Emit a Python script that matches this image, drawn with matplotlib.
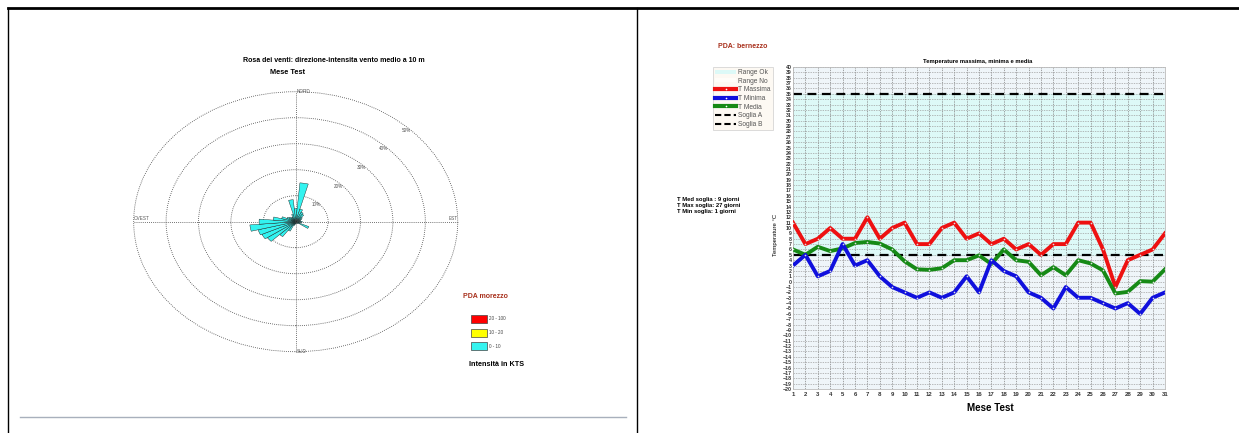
import numpy as np
import matplotlib
matplotlib.use("Agg")
import matplotlib.pyplot as plt
from matplotlib.patches import Wedge, Circle, Rectangle, Patch
from matplotlib.lines import Line2D

W, H = 1239, 433

# daily temperatures (Mese Test)
days = list(range(1, 32))
t_max = [11, 7, 8, 10, 8, 8, 12, 8, 10, 11, 7, 7, 10, 11, 8, 9, 7, 8, 6, 7,
         5, 7, 7, 11, 11, 6, -1, 4, 5, 6, 9]
t_min = [3, 5, 1, 2, 7, 3, 4, 1, -1, -2, -3, -2, -3, -2, 1, -2, 4, 2, 1, -2,
         -3, -5, -1, -3, -3, -4, -5, -4, -6, -3, -2]
t_med = [6, 5, 6.5, 5.7, 6.2, 7.2, 7.4, 7.1, 6, 3.8, 2.3, 2.2, 2.5, 4, 4, 4.9,
         3.3, 6, 4, 3.7, 1.2, 2.7, 1.2, 4, 3.4, 2.1, -2.2, -1.9, 0.1, 0, 2.3]
soglia_a = 35
soglia_b = 5

# wind rose: direction sectors (deg from north) and frequency (%)
rose_dirs = list(range(0, 360, 10))
rose_freq = [5, 15, 5, 4, 3.5, 2.5, 2, 1.5, 1.5, 2, 1.5, 1, 4.5, 1, 0.8, 0.6,
             0.6, 0.6, 0.8, 1, 1.5, 4, 7, 10.7, 11.5, 12, 14.2, 11.3, 7, 4.5,
             3, 2.5, 2, 2, 3, 8.5]
rose_rings = [10, 20, 30, 40, 50]

speed_classes = ["20 - 100", "10 - 20", "0 - 10"]
speed_colors = ["#ff0000", "#ffff00", "#33f3f0"]

RED = "#ee1111"
BLUE = "#1010dd"
GREEN = "#168a16"
DARKRED = "#a8301c"


def fx(px):
    return px / W


def fy(py):
    return 1 - py / H


plt.rcParams["font.family"] = ["Liberation Sans", "DejaVu Sans"]
fig = plt.figure(figsize=(W / 100, H / 100), dpi=100)

# ---- wind rose (left panel) ----
ax = fig.add_axes([fx(127.2), fy(356.9), 337 / W, 270.4 / H])
ax.set_xlim(-52, 52)
ax.set_ylim(-52, 52)
ax.axis("off")

for r in rose_rings:
    ax.add_patch(Circle((0, 0), r, fill=False, ls=(0, (1, 1.5)), lw=0.6,
                        ec="#444444"))
    a = np.radians(44)
    ax.text((r - 1) * np.sin(a), (r - 1) * np.cos(a), f"{r}%", fontsize=3.3,
            color="#555555", ha="center", va="center")
ax.plot([0, 0], [-50, 50], ls=(0, (1, 1.5)), lw=0.6, color="#444444")
ax.plot([-50, 50], [0, 0], ls=(0, (1, 1.5)), lw=0.6, color="#444444")

for d, f in zip(rose_dirs, rose_freq):
    ax.add_patch(Wedge((0, 0), f, 90 - d - 5, 90 - d + 5, fc=speed_colors[2],
                       ec="#1a1a1a", lw=0.3, zorder=3))
ax.text(0.6, 0, "0%", fontsize=3.3, color="#555555", ha="center",
        va="center", zorder=4)

ax.text(0.4, 50, "NORD", fontsize=3.3, color="#555555", ha="left", va="center")
ax.text(0.4, -50, "SUD", fontsize=3.3, color="#555555", ha="left", va="center")
ax.text(-50, 0.4, "OVEST", fontsize=3.3, color="#555555", ha="left", va="bottom")
ax.text(50, 0.4, "EST", fontsize=3.3, color="#555555", ha="right", va="bottom")

fig.text(fx(334), fy(61), "Rosa dei venti: direzione-intensita vento medio a 10 m",
         ha="center", va="center", fontsize=5, fontweight="bold")
fig.text(fx(288), fy(73), "Mese Test", ha="center", va="center", fontsize=5.3,
         fontweight="bold")

fig.text(fx(463), fy(296), "PDA morezzo", ha="left", va="center", fontsize=5,
         fontweight="bold", color=DARKRED)
for i, (lab, col) in enumerate(zip(speed_classes, speed_colors)):
    y0 = 315 + i * 13.5
    fig.add_artist(Rectangle((fx(471), fy(y0 + 8)), 16 / W, 8 / H,
                             transform=fig.transFigure, fc=col, ec="#444444",
                             lw=0.5))
    fig.text(fx(489), fy(y0 + 4), lab, ha="left", va="center", fontsize=3.3,
             color="#444444")
fig.text(fx(469), fy(365), "Intensità in KTS", ha="left", va="center",
         fontsize=5.2, fontweight="bold")

fig.add_artist(Line2D([fx(20), fx(626)], [fy(417), fy(417)], color="#a8b0bc",
                      lw=1, transform=fig.transFigure))

# ---- temperature chart (right panel) ----
ax2 = fig.add_axes([fx(793), fy(389), 372 / W, 322 / H])
ax2.set_facecolor("#eff5f9")
ax2.axhspan(soglia_b, soglia_a, color="#ddf9f7", zorder=0)
ax2.set_xlim(1, 31)
ax2.set_ylim(-20, 40)
ax2.set_xticks(days)
ax2.set_yticks(range(-20, 41))
ax2.tick_params(axis="y", labelsize=3.8, pad=1, length=0, labelcolor="#333333")
ax2.tick_params(axis="x", labelsize=4.3, pad=2, length=0, labelcolor="#333333")
for lab in ax2.get_yticklabels() + ax2.get_xticklabels():
    lab.set_fontweight("bold")
ax2.yaxis.grid(True, color="#a0a0a0", ls=(0, (2, 1.5)), lw=0.5)
ax2.xaxis.grid(True, color="#808080", ls=(0, (2, 1.5)), lw=0.5)
ax2.set_axisbelow(True)
for s in ax2.spines.values():
    s.set_color("#bbbbbb")
    s.set_linewidth(0.6)

ax2.axhline(soglia_a, color="black", lw=1.6, dashes=(4, 2.5), zorder=2)
ax2.axhline(soglia_b, color="black", lw=1.6, dashes=(4, 2.5), zorder=2)
mk = dict(marker="o", ms=1.2, mfc="#dddddd", mew=0)
ax2.plot(days, t_max, color=RED, lw=2.8, zorder=3, **mk)
ax2.plot(days, t_med, color=GREEN, lw=2.8, zorder=3, **mk)
ax2.plot(days, t_min, color=BLUE, lw=2.8, zorder=3, **mk)

fig.text(fx(978), fy(62), "Temperature massima, minima e media", ha="center",
         va="center", fontsize=4.2, fontweight="bold")
fig.text(fx(776), fy(235), "Temperature °C", ha="center", va="center",
         fontsize=4.3, rotation=90)
fig.text(fx(990), fy(408), "Mese Test", ha="center", va="center", fontsize=7,
         fontweight="bold")
fig.text(fx(718), fy(46), "PDA: bernezzo", ha="left", va="center", fontsize=5,
         fontweight="bold", color=DARKRED)
for i, s in enumerate(["T Med soglia : 9 giorni", "T Max soglia: 27 giorni",
                       "T Min soglia: 1 giorni"]):
    fig.text(fx(677), fy(200 + i * 6), s, ha="left", va="center", fontsize=4.2,
             fontweight="bold")

handles = [
    Patch(fc="#ddf9f7", ec="none", label="Range Ok"),
    Patch(fc="#fffdf9", ec="none", label="Range No"),
    Line2D([], [], color=RED, lw=3, marker="o", ms=1.2, mfc="white", mew=0,
           label="T Massima"),
    Line2D([], [], color=BLUE, lw=3, marker="o", ms=1.2, mfc="white", mew=0,
           label="T Minima"),
    Line2D([], [], color=GREEN, lw=3, marker="o", ms=1.2, mfc="white", mew=0,
           label="T Media"),
    Line2D([], [], color="black", lw=1.5, dashes=(3, 1.5), label="Soglia A"),
    Line2D([], [], color="black", lw=1.5, dashes=(3, 1.5), label="Soglia B"),
]
leg = fig.legend(handles=handles, loc="upper left",
                 bbox_to_anchor=(fx(713), fy(67)), fontsize=4.8, frameon=True,
                 fancybox=False, borderpad=0.3, labelspacing=0.25,
                 handlelength=3.2, handleheight=0.6, handletextpad=0.3,
                 borderaxespad=0)
leg.get_frame().set_facecolor("#fdf8f0")
leg.get_frame().set_edgecolor("#cccccc")
leg.get_frame().set_linewidth(0.6)
for t in leg.get_texts():
    t.set_color("#555555")

# ---- page frame ----
fig.add_artist(Line2D([fx(8), 1], [fy(8), fy(8)], color="black", lw=2,
                      transform=fig.transFigure))
for xline in (8, 637):
    fig.add_artist(Line2D([fx(xline), fx(xline)], [fy(8), 0], color="black",
                          lw=1, transform=fig.transFigure))

fig.savefig("out.png", dpi=100)
